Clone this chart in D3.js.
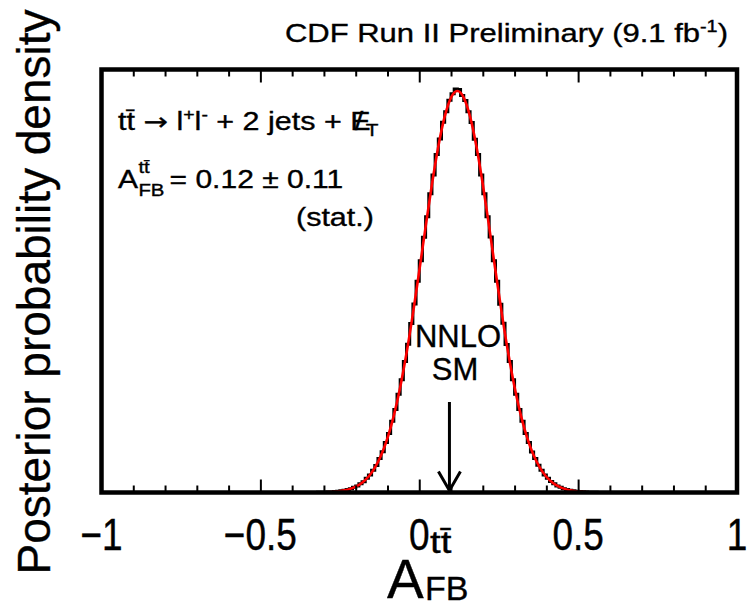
<!DOCTYPE html>
<html><head><meta charset="utf-8">
<script src="https://cdn.jsdelivr.net/npm/d3@7"></script>
<style>
body{margin:0;background:#fff}
svg{display:block}
text{font-family:"Liberation Sans",Arial,Helvetica,sans-serif;fill:#000;stroke:#000;stroke-width:0.35px}
</style>
</head><body>
<svg id="c" width="749" height="602"></svg>
<script>
// ---------------- data ----------------
const binStart = -0.32;
const binWidth = 0.01;
const histValues = [
 0.0004,0.0006,0.0008,0.0012,0.0015,0.0023,0.0029,0.0042,0.0054,0.0075,
 0.0095,0.0129,0.0163,0.0218,0.0270,0.0353,0.0434,0.0556,0.0675,0.0845,
 0.1012,0.1245,0.1470,0.1775,0.2065,0.2445,0.2810,0.3262,0.3690,0.4212,
 0.4695,0.5260,0.5772,0.6360,0.6870,0.7440,0.7905,0.8420,0.8805,0.9220,
 0.9485,0.9770,0.9930,1.0050,
 1.0040,0.9885,0.9765,0.9480,0.9215,0.8800,0.8420,0.7905,0.7440,0.6865,
 0.6362,0.5770,0.5262,0.4690,0.4215,0.3688,0.3265,0.2805,0.2448,0.2066,
 0.1772,0.1470,0.1246,0.1010,0.0846,0.0676,0.0553,0.0436,0.0352,0.0271,
 0.0216,0.0164,0.0128,0.0096,0.0074,0.0054,0.0042,0.0030,0.0022,0.0016,
 0.0011,0.0008,0.0006,0.0004
];
const fitX = [-0.32,-0.30,-0.28,-0.26,-0.24,-0.22,-0.20,-0.18,-0.16,-0.14,-0.12,-0.10,-0.08,-0.06,-0.04,-0.02,
  0.00,0.02,0.04,0.06,0.08,0.10,0.12,0.14,0.16,0.18,0.20,0.22,0.24,0.26,0.28,0.30,0.32,0.34,0.36,0.38,0.40,
  0.42,0.44,0.46,0.48,0.50,0.52,0.54,0.56];
const fitY = [0.0003,0.0007,0.0013,0.0026,0.0047,0.0084,0.0145,0.0243,0.0392,0.0612,0.0925,0.1353,0.1915,
  0.2622,0.3472,0.4449,0.5516,0.6615,0.7676,0.8618,0.9360,0.9836,1.0000,0.9836,0.9360,0.8618,0.7676,0.6615,
  0.5516,0.4449,0.3472,0.2622,0.1915,0.1353,0.0925,0.0612,0.0392,0.0243,0.0145,0.0084,0.0047,0.0026,0.0013,
  0.0007,0.0003];
const xMajorTicks = [-0.5, 0, 0.5];
const xMinorTicks = [-0.9,-0.8,-0.7,-0.6,-0.4,-0.3,-0.2,-0.1,0.1,0.2,0.3,0.4,0.6,0.7,0.8,0.9];
const xTickLabelValues = [-1, -0.5, 0, 0.5, 1];
const xTickLabels = ["\u22121", "\u22120.5", "0", "0.5", "1"];
const smPrediction = 0.095;

// ---------------- layout ----------------
const svg = d3.select("#c");
const L = 101.5, R = 737, T = 69.5, B = 492.5;
const x = d3.scaleLinear().domain([-1, 1]).range([L, R]);
const y = d3.scaleLinear().domain([0, 1.0535]).range([B, T]);

// histogram (step outline)
const steps = [];
histValues.forEach((v, i) => {
  const lo = binStart + i * binWidth, hi = lo + binWidth;
  steps.push([lo, v], [hi, v]);
});
steps.unshift([binStart, 0]);
steps.push([binStart + histValues.length * binWidth, 0]);
svg.append("path")
  .attr("d", d3.line().x(d => x(d[0])).y(d => y(d[1]))(steps))
  .attr("fill", "none").attr("stroke", "#000").attr("stroke-width", 3);

// fit curve
svg.append("path")
  .attr("d", d3.line().x((d, i) => x(fitX[i])).y(d => y(d)).curve(d3.curveMonotoneX)(fitY))
  .attr("fill", "none").attr("stroke", "#ff0000").attr("stroke-width", 2.6);

// ticks
function ticks(axisFn, vals, size, ty) {
  const g = svg.append("g").attr("transform", `translate(0,${ty})`)
    .call(axisFn(x).tickValues(vals).tickSize(size).tickFormat(""));
  g.select(".domain").remove();
  g.selectAll("line").attr("stroke", "#000").attr("stroke-width", 2);
}
ticks(d3.axisBottom, xMinorTicks, -7, B);
ticks(d3.axisBottom, xMajorTicks, -13, B);
ticks(d3.axisTop, xMinorTicks, -7, T);
ticks(d3.axisTop, xMajorTicks, -13, T);

// frame
svg.append("rect").attr("x", L).attr("y", T).attr("width", R - L).attr("height", B - T)
  .attr("fill", "none").attr("stroke", "#000").attr("stroke-width", 4.5);

// tick labels
xTickLabelValues.forEach((v, i) => {
  svg.append("text")
    .attr("transform", `translate(${x(v)},550) scale(1,1.2)`)
    .attr("text-anchor", "middle").attr("font-size", 37)
    .text(xTickLabels[i]);
});

// title
const gt = svg.append("g").attr("transform", "translate(728,42) scale(1.24,1)");
const tt = gt.append("text").attr("font-size", 25).attr("text-anchor", "end");
tt.append("tspan").text("CDF Run II Preliminary (9.1 fb");
tt.append("tspan").attr("dy", -10).attr("font-size", 16).text("-1");
tt.append("tspan").attr("dy", 10).text(")");

// inset line 1
const g1 = svg.append("g").attr("transform", "translate(118,130) scale(1.22,1)");
const t1 = g1.append("text").attr("font-size", 25);
t1.append("tspan").text("tt\u0304 ");
t1.append("tspan").attr("font-family", "DejaVu Sans").attr("font-size", 24).text("\u2192");
t1.append("tspan").text(" l");
t1.append("tspan").attr("dy", -10).attr("font-size", 16).text("+");
t1.append("tspan").attr("dy", 10).text("l");
t1.append("tspan").attr("dy", -10).attr("font-size", 16).text("-");
t1.append("tspan").attr("dy", 10).text(" + 2 jets + E");
t1.append("tspan").attr("dx", -13).text("/");
t1.append("tspan").attr("dx", 2).attr("dy", 6).attr("font-size", 17).text("T");

// inset line 2
const g2 = svg.append("g").attr("transform", "translate(118,188) scale(1.2,1)");
g2.append("text").attr("font-size", 25).text("A");
g2.append("text").attr("x", 17).attr("y", -15).attr("font-size", 17).text("tt\u0304");
g2.append("text").attr("x", 17).attr("y", 8).attr("font-size", 17).text("FB");
g2.append("text").attr("x", 43).attr("font-size", 25).text("= 0.12 \u00b1 0.11");

// inset line 3
svg.append("g").attr("transform", "translate(296,226) scale(1.22,1)")
  .append("text").attr("font-size", 25).text("(stat.)");

// NNLO SM label + arrow
svg.append("text").attr("x", 458).attr("y", 347).attr("text-anchor", "middle").attr("font-size", 31).text("NNLO");
svg.append("text").attr("x", 455).attr("y", 380).attr("text-anchor", "middle").attr("font-size", 31).text("SM");
const ax = x(smPrediction);
svg.append("line").attr("x1", ax).attr("x2", ax).attr("y1", 402).attr("y2", B - 2)
  .attr("stroke", "#000").attr("stroke-width", 3);
svg.append("path").attr("d", `M${ax - 11},${B - 21}L${ax},${B - 2}L${ax + 11},${B - 21}`)
  .attr("fill", "none").attr("stroke", "#000").attr("stroke-width", 3);

// axis titles
svg.append("text").attr("x", 387).attr("y", 598).attr("font-size", 55).text("A");
svg.append("g").attr("transform", "translate(430,553) scale(1.2,1)")
  .append("text").attr("font-size", 32).text("tt\u0304");
svg.append("text").attr("x", 425).attr("y", 600).attr("font-size", 34).text("FB");

svg.append("text").attr("transform", "translate(50,292) rotate(-90)")
  .attr("text-anchor", "middle").attr("font-size", 46).text("Posterior probability density");
</script>
</body></html>
